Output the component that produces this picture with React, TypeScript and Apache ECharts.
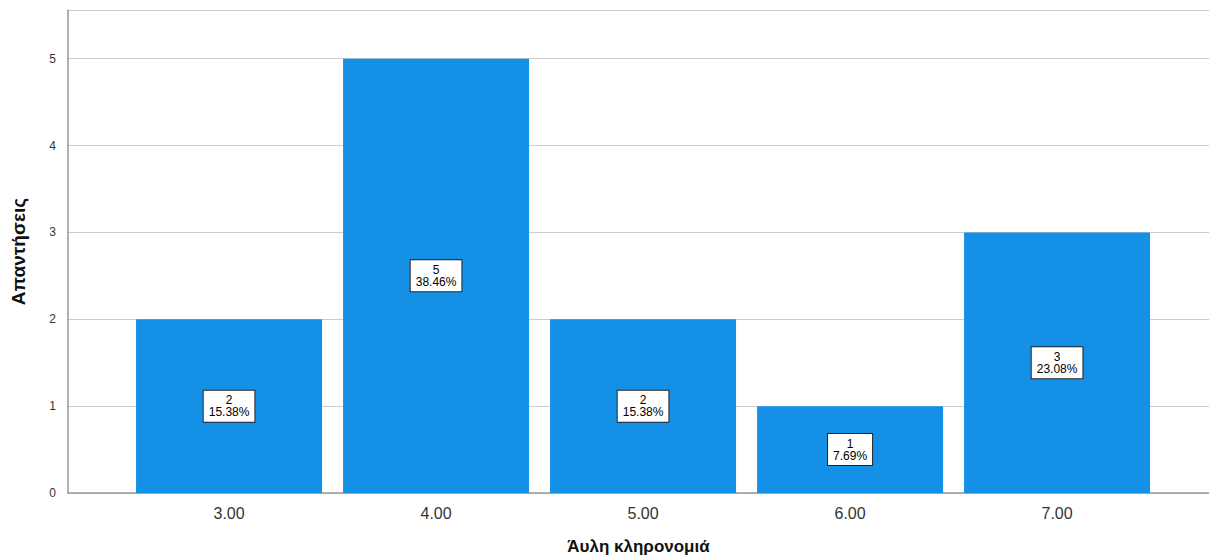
import React, { useEffect, useRef } from "react";
import * as echarts from "echarts";

const categories = [3, 4, 5, 6, 7];
const categoryLabels = ["3.00", "4.00", "5.00", "6.00", "7.00"];
const counts = [2, 5, 2, 1, 3];
const percents = ["15.38%", "38.46%", "15.38%", "7.69%", "23.08%"];
const yTicks = [0, 1, 2, 3, 4, 5];

export default function App() {
  const ref = useRef<HTMLDivElement>(null);
  useEffect(() => {
    if (!ref.current) return;
    const chart = echarts.init(ref.current, null, { renderer: "svg" });
    const font = "Liberation Sans, Arial, sans-serif";
    chart.setOption({
      animation: false,
      backgroundColor: "#ffffff",
      grid: {
        left: 68,
        right: 0,
        top: 10,
        bottom: 65,
        containLabel: false,
        outerBoundsMode: "none",
      },
      xAxis: {
        type: "value",
        min: 2.222,
        max: 7.734,
        name: "Άυλη κληρονομιά",
        nameLocation: "middle",
        nameGap: 45,
        nameTextStyle: { fontFamily: font, fontSize: 17, fontWeight: "bold", color: "#111" },
        axisLine: { show: true, lineStyle: { color: "#999", width: 1.5 } },
        axisTick: { show: false },
        splitLine: { show: false },
        axisLabel: {
          customValues: categories,
          formatter: (v: number) => categoryLabels[categories.indexOf(Math.round(v))] ?? "",
          fontFamily: font,
          fontSize: 16,
          color: "#333",
          margin: 12,
        },
      },
      yAxis: {
        type: "value",
        min: 0,
        max: 5.56,
        interval: 1,
        name: "Απαντήσεις",
        nameLocation: "middle",
        nameGap: 40,
        nameRotate: 90,
        nameTextStyle: {
          fontFamily: "Liberation Sans Narrow, Liberation Sans, Arial, sans-serif",
          fontSize: 19,
          fontWeight: "bold",
          color: "#111",
        },
        axisLine: { show: true, lineStyle: { color: "#999", width: 1.5 } },
        axisTick: { show: false },
        splitLine: { show: true, lineStyle: { color: "#ccc", width: 1 } },
        axisLabel: {
          customValues: yTicks,
          fontFamily: font,
          fontSize: 12,
          color: "#333",
          margin: 12,
        },
      },
      series: [
        {
          type: "bar",
          barWidth: 186,
          data: categories.map((c, i) => [c, counts[i]]),
          itemStyle: { color: "#1490e6" },
          label: {
            show: true,
            position: "inside",
            formatter: (p: any) => `${counts[p.dataIndex]}\n${percents[p.dataIndex]}`,
            fontFamily: font,
            fontSize: 12,
            lineHeight: 12,
            color: "#000",
            backgroundColor: "#fff",
            borderColor: "#222",
            borderWidth: 1,
            padding: [4, 5, 3, 5],
          },
        },
      ],
    });
    return () => chart.dispose();
  }, []);
  return (
    <div
      ref={ref}
      style={{ position: "fixed", left: 0, top: 0, width: 1209, height: 558, background: "#fff" }}
    />
  );
}
